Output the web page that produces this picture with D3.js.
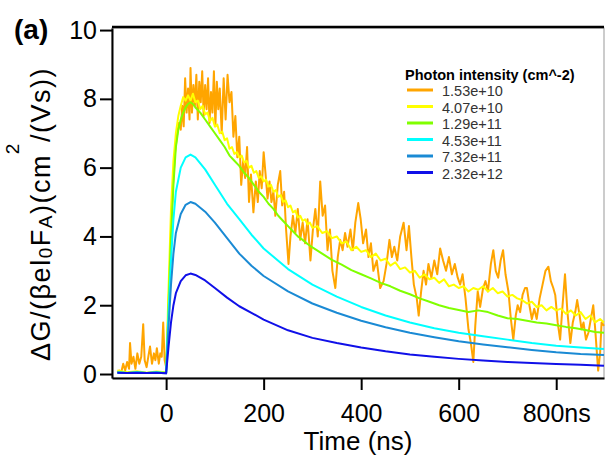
<!DOCTYPE html>
<html>
<head>
<meta charset="utf-8">
<script src="https://cdn.jsdelivr.net/npm/d3@7"></script>
<style>
body { margin: 0; background: #fff; }
text { font-family: "Liberation Sans", Arial, sans-serif; }
</style>
</head>
<body>
<script>
// values: [time (ns), dG/(beta e I0 F_A)]
var orange = [[-100,0.05],[-96,0.1],[-92,0.05],[-88,0.3],[-84,0.1],[-80,0.35],[-76,0.15],[-74,0.9],[-71,0.3],[-67,0.5],[-63,0.15],[-59,0.6],[-55,0.3],[-51,0.5],[-47,1.45],[-44,0.4],[-40,0.2],[-36,0.55],[-33,0.8],[-29,0.3],[-25,0.6],[-22,0.4],[-19,0.75],[-15,0.3],[-12,0.6],[-9,0.5],[-6,1.5],[-3,0.4],[0,0.2],
  [3,1.0],[6,2.5],[10,4.2],[14,5.5],[18,6.4],[22,6.9],[26,7.3],[30,7.1],[33,7.8],[36,7.2],[39,8.6],[42,7.6],[45,8.3],[48,7.4],[50,8.9],[53,7.6],[56,8.4],[59,7.8],[62,8.7],[65,7.4],[68,8.5],[71,7.9],[74,8.8],[77,7.5],[80,8.4],[83,7.7],[86,8.6],[89,7.3],[92,8.2],[95,7.6],[98,8.8],[101,7.2],[104,8.5],[107,7.7],[110,8.3],[114,7.0],[118,8.6],[122,7.4],[126,8.7],[130,7.9],[134,8.2],[138,6.9],[142,7.5],[146,6.3],[150,6.9],
  [154,5.5],[158,6.2],[162,5.7],[166,6.6],[170,5.0],[174,5.8],[179,4.7],[184,5.6],[188,5.0],[192,5.9],[196,5.4],[200,6.45],[204,5.8],[208,5.1],[212,5.6],[216,5.0],[220,5.3],[224,4.6],[229,5.5],[234,5.9],[238,4.9],[242,5.3],[246,4.2],[251,3.2],[255,4.0],[260,4.6],[265,4.1],[270,4.8],[275,3.9],[280,4.4],[285,3.8],[290,4.5],[296,3.3],[301,4.2],[306,4.8],[311,4.0],[316,5.6],[321,4.6],[326,4.9],[331,3.6],[336,4.2],[341,3.0],[347,2.5],[352,3.4],[357,3.9],[362,3.6],[367,4.1],[372,3.7],[378,4.2],[383,3.6],[388,4.4],[394,4.97],[399,4.5],
  [404,3.8],[410,4.2],[415,3.4],[420,3.8],[425,3.0],[432,3.3],[439,2.5],[446,2.7],[452,3.2],[458,3.9],[463,3.4],[468,3.7],[474,3.3],[480,4.0],[487,4.4],[493,3.6],[498,4.3],[503,3.4],[508,2.6],[514,2.2],[518,1.7],[523,2.4],[528,3.0],[533,2.6],[538,3.2],[544,2.8],[550,3.3],[556,2.9],[562,3.65],[568,3.3],[574,3.0],[580,3.4],[586,2.9],[592,3.2],[598,2.8],[603,2.6],[608,2.9],[614,2.2],[620,1.3],[625,0.9],[630,0.35],[634,1.4],[639,2.4],[644,1.95],[650,2.5],[655,2.7],[660,2.4],[666,3.2],[671,3.6],[676,3.0],[681,2.8],[686,3.3],[691,3.6],[696,2.9],
  [702,2.4],[707,1.6],[712,1.0],[717,1.7],[721,2.0],[726,1.8],[731,2.3],[736,2.5],[740,2.5],[745,2.0],[750,1.6],[755,1.9],[760,1.6],[766,2.2],[772,2.6],[778,3.0],[784,3.12],[789,2.7],[794,2.5],[798,2.3],[803,1.5],[808,1.0],[813,2.0],[818,2.9],[823,1.8],[829,0.9],[834,1.5],[839,1.8],[843,2.15],[848,1.7],[852,1.3],[856,1.5],[861,1.0],[866,1.2],[871,1.6],[876,2.0],[880,1.3],[886,0.1],[890,0.6],[893,1.5],[898,1.4]];

var yellow = [[-100,0.1],[-80,0.05],[-60,0.08],[-40,0.04],[-20,0.07],[0,0.05],[5,2.5],[10,4.8],[15,6.2],[20,7.0],[25,7.5],[30,7.8],[35,8.05],[40,7.95],[45,8.1],[50,7.95],[55,8.15],[60,7.9],[65,7.95],[70,7.7],[75,7.8],[80,7.55],[85,7.6],[90,7.35],[95,7.45],
  [100,7.2],[105,7.25],[110,7.0],[115,7.05],[120,6.8],[125,6.85],[130,6.55],[135,6.6],[140,6.4],[145,6.45],[150,6.3],[155,6.35],[160,6.15],[165,6.2],[170,6.0],[175,6.05],[180,5.85],[185,5.9],[190,5.7],[195,5.75],[200,5.6],[205,5.65],[210,5.45],[215,5.5],[220,5.3],[225,5.35],[230,5.15],[235,5.2],[240,5.0],[245,5.05],[250,4.85],[255,4.9],[260,4.7],[265,4.75],[270,4.55],[275,4.6],[280,4.45],[285,4.5],[290,4.35],[295,4.4],
  [300,4.25],[310,4.3],[320,4.1],[330,4.15],[340,3.95],[350,4.0],[360,3.8],[370,3.85],[380,3.6],[390,3.7],[400,3.55],[410,3.6],[420,3.4],[430,3.5],[440,3.3],[450,3.35],[460,3.15],[470,3.25],[480,3.05],[490,3.1],[500,2.95],[510,3.0],[520,2.8],[530,2.9],[540,2.75],[550,2.8],[560,2.65],[570,2.75],[580,2.55],[590,2.6],[600,2.5],
  [610,2.55],[620,2.4],[630,2.5],[640,2.45],[650,2.55],[660,2.4],[670,2.5],[680,2.35],[690,2.4],[700,2.25],[710,2.3],[720,2.2],[730,2.15],[740,2.05],[750,2.1],[760,1.95],[770,2.0],[780,1.85],[790,1.95],[800,1.85],[810,1.9],[820,1.75],[830,1.85],[840,1.7],[850,1.8],[860,1.6],[870,1.7],[880,1.5],[890,1.6],[898,1.5]];

var green = [[-100,0.06],[-80,0.03],[-60,0.06],[-40,0.03],[-20,0.05],[0,0.03],[5,2.0],[10,4.0],[15,5.5],[20,6.6],[25,7.1],[30,7.4],[35,7.6],[40,7.75],[45,7.85],[50,7.9],[55,7.85],[60,7.75],[70,7.6],[80,7.4],[90,7.2],[100,7.0],[110,6.8],[120,6.6],[130,6.35],[140,6.2],[150,6.05],[160,5.85],[170,5.7],[180,5.5],[190,5.3],[200,5.15],[210,4.95],[220,4.8],[230,4.6],[240,4.45],[250,4.3],[260,4.15],[270,4.0],[280,3.9],[290,3.78],[300,3.68],
  [320,3.5],[340,3.32],[360,3.18],[380,3.02],[400,2.9],[420,2.78],[440,2.65],[460,2.55],[480,2.42],[500,2.32],[520,2.2],[540,2.1],[560,2.0],[580,1.92],[600,1.86],[620,1.8],[640,1.85],[660,1.8],[680,1.7],[700,1.62],[720,1.6],[740,1.55],[760,1.5],[780,1.47],[800,1.42],[820,1.37],[840,1.33],[860,1.28],[880,1.22],[898,1.2]];

var tSmooth = [-100,-80,-60,-40,-20,0,5,10,15,20,30,40,50,60,80,100,125,150,175,200,250,300,350,400,450,500,550,600,650,700,750,800,850,898];
var cyanV   = [0.05,0.03,0.05,0.03,0.05,0.03,1.8,3.3,4.5,5.3,6.0,6.3,6.38,6.3,5.95,5.5,4.95,4.5,4.05,3.65,3.05,2.6,2.25,1.95,1.7,1.5,1.33,1.2,1.1,1.0,0.9,0.82,0.77,0.73];
var steelV  = [0.04,0.03,0.04,0.03,0.04,0.02,1.4,2.6,3.5,4.1,4.65,4.92,5.0,4.95,4.72,4.4,3.95,3.5,3.15,2.85,2.4,2.05,1.78,1.55,1.36,1.2,1.07,0.95,0.86,0.78,0.7,0.63,0.58,0.55];
var blueV   = [0.04,0.03,0.04,0.03,0.04,0.02,0.8,1.5,2.0,2.35,2.7,2.87,2.92,2.88,2.72,2.5,2.22,1.97,1.78,1.58,1.27,1.05,0.9,0.77,0.66,0.57,0.5,0.44,0.39,0.35,0.32,0.29,0.27,0.24];

var legendTitle = 'Photon intensity (cm^-2)';
var legendLabels = ['1.53e+10', '4.07e+10', '1.29e+11', '4.53e+11', '7.32e+11', '2.32e+12'];
var colors = ['#ffa500', '#ffff00', '#80ff00', '#00ffff', '#1a8ad4', '#1010e8'];
var xTicks = [0, 200, 400, 600, 800];
var xTickLabels = ['0', '200', '400', '600', '800ns'];
var yTicks = [0, 2, 4, 6, 8, 10];

var series = [orange, yellow, green,
  tSmooth.map(function(t, i) { return [t, cyanV[i]]; }),
  tSmooth.map(function(t, i) { return [t, steelV[i]]; }),
  tSmooth.map(function(t, i) { return [t, blueV[i]]; })];

var svg = d3.select('body').append('svg')
            .attr('width', 608).attr('height', 457);

var x = d3.scaleLinear().domain([-111, 898]).range([112, 604]);
var y = d3.scaleLinear().domain([-0.116, 10.06]).range([378, 28]);

// frame
svg.append('rect').attr('x', 112).attr('y', 28).attr('width', 492).attr('height', 350)
   .attr('fill', 'none').attr('stroke', '#999').attr('stroke-width', 1);
svg.append('line').attr('x1', 112).attr('x2', 604).attr('y1', 27).attr('y2', 27)
   .attr('stroke', '#000').attr('stroke-width', 2.5);

var line = d3.line()
             .x(function(d) { return x(d[0]); })
             .y(function(d) { return y(d[1]); });

svg.append('g').selectAll('path').data(series).enter().append('path')
   .attr('d', line)
   .attr('fill', 'none')
   .attr('stroke', function(d, i) { return colors[i]; })
   .attr('stroke-width', 2)
   .attr('stroke-linejoin', 'round');

var yAxis = svg.append('g').attr('transform', 'translate(112,0)')
               .call(d3.axisLeft(y).tickValues(yTicks).tickSize(12).tickSizeOuter(0).tickPadding(3));
var xAxis = svg.append('g').attr('transform', 'translate(0,378)')
               .call(d3.axisBottom(x).tickValues(xTicks).tickSize(12).tickSizeOuter(0).tickPadding(14)
                       .tickFormat(function(d, i) { return xTickLabels[i]; }));

[yAxis, xAxis].forEach(function(g) {
    g.attr('font-size', 25).attr('font-family', '"Liberation Sans", Arial, sans-serif');
    g.select('.domain').attr('stroke-width', 2);
    g.selectAll('.tick line').attr('stroke-width', 2);
    g.selectAll('.tick text').attr('fill', '#000');
});

svg.append('text').attr('x', 358).attr('y', 450).attr('text-anchor', 'middle')
   .attr('font-size', 26).text('Time (ns)');

var ylab = svg.append('text').attr('transform', 'translate(50,214) rotate(-90)')
              .attr('text-anchor', 'middle').attr('font-size', 27)
              .attr('letter-spacing', 1.5);
ylab.append('tspan').text('ΔG/(βel');
ylab.append('tspan').attr('font-size', 19).attr('dy', 2).text('0');
ylab.append('tspan').attr('dy', -2).text('F');
ylab.append('tspan').attr('font-size', 19).attr('dy', 2).text('A');
ylab.append('tspan').attr('dy', -2).text(')(cm');
ylab.append('tspan').attr('font-size', 19).attr('dy', -31).text('2');
ylab.append('tspan').attr('dy', 31).text('/(Vs))');

svg.append('text').attr('x', 14).attr('y', 39).attr('font-size', 28)
   .attr('font-weight', 'bold').text('(a)');

// legend
var leg = svg.append('g');
leg.append('text').attr('x', 405).attr('y', 80).attr('font-size', 14.5)
   .attr('font-weight', 'bold').text(legendTitle);
var item = leg.selectAll('g.item').data(legendLabels).enter().append('g')
              .attr('transform', function(d, i) { return 'translate(0,' + (90 + i * 16.5) + ')'; });
item.append('line').attr('x1', 407).attr('x2', 433)
    .attr('stroke', function(d, i) { return colors[i]; }).attr('stroke-width', 3);
item.append('text').attr('x', 442).attr('y', 6).attr('font-size', 14.5)
    .attr('fill', '#333').text(function(d) { return d; });
</script>
</body>
</html>
